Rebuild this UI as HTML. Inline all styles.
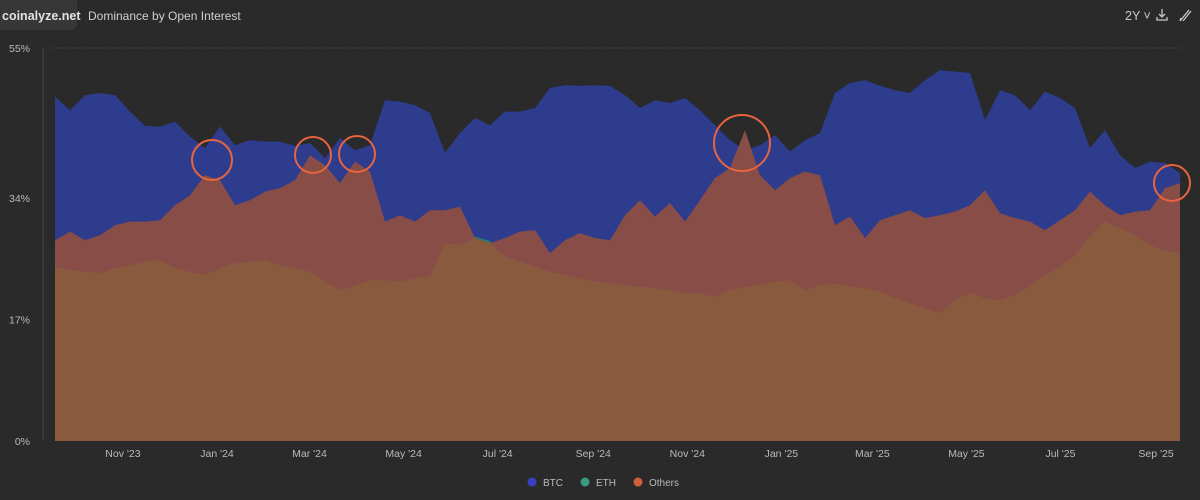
<!DOCTYPE html>
<html><head><meta charset="utf-8"><style>
body{margin:0;background:#2a2a2a;font-family:"Liberation Sans",sans-serif;}
svg{display:block}
</style></head><body>
<svg id="chart" width="1200" height="500">
<rect x="0" y="0" width="1200" height="500" fill="#2a2a2a"/>
<rect x="-6" y="-6" width="83" height="36" rx="6" fill="#373737"/>
<text x="2" y="20" fill="#e2e2e2" font-size="12.5" font-weight="bold">coinalyze.net</text>
<text x="88" y="20" fill="#d0d0d0" font-size="12">Dominance by Open Interest</text>
<text x="1125" y="20" fill="#c8c8c8" font-size="12.5">2Y ˅</text>
<g stroke="#c8c8c8" fill="none" stroke-width="1.3">
<path d="M1162 9 v8 M1159 14 l3 3 l3 -3 M1157 17 v3 h10 v-3"/></g>
<g stroke="#c8c8c8" fill="none" stroke-width="1.3">
<path d="M1180 21 l9 -11 M1183 21 l8 -10 M1180 21 l1 -3"/></g>
<line x1="52" y1="48" x2="1182" y2="48" stroke="#444" stroke-dasharray="3 2"/>
<line x1="43" y1="48" x2="43" y2="441" stroke="#444"/>
<g id="plot"></g>
<g id="axes"></g>
<g>
<g><circle cx="532" cy="482" r="4.5" fill="#3a3fc0"/><text x="543" y="486" fill="#bbb" font-size="10">BTC</text></g>
<g><circle cx="585" cy="482" r="4.5" fill="#3a9a80"/><text x="596" y="486" fill="#bbb" font-size="10">ETH</text></g>
<g><circle cx="638" cy="482" r="4.5" fill="#d0603c"/><text x="649" y="486" fill="#bbb" font-size="10">Others</text></g>
</g>
<g id="annot"></g>
</svg>
<script>
const btc=[48.2,46.3,48.4,48.7,48.4,46.1,44.1,44.0,44.7,42.6,41.0,44.0,41.4,42.1,41.9,41.9,41.3,41.7,39.6,42.4,40.7,41.4,47.7,47.5,47.0,45.9,40.3,43.1,45.2,44.2,46.1,46.1,46.6,49.4,49.8,49.7,49.8,49.7,48.4,46.6,47.7,47.3,48.0,46.3,44.2,42.1,40.7,41.4,42.8,40.5,42.1,43.1,48.7,50.1,50.5,49.7,49.1,48.7,50.5,51.9,51.7,51.5,44.9,49.1,48.4,46.3,48.9,48.0,46.6,41.0,43.5,40.0,38.2,39.1,38.9,37.5];
const others=[28.1,29.3,28.1,28.8,30.2,30.7,30.7,30.9,33.0,34.4,37.2,36.5,33.0,33.7,34.9,35.4,36.5,40.0,38.6,36.1,39.1,37.7,30.7,31.6,30.7,32.3,32.3,32.8,28.4,27.7,28.4,29.3,29.5,26.3,28.1,29.1,28.4,28.1,31.6,33.7,31.4,33.3,30.7,33.7,36.8,38.2,43.5,37.2,35.1,36.8,37.7,37.2,30.2,31.4,28.4,30.9,31.6,32.3,31.2,31.6,32.1,33.0,35.1,31.9,31.2,30.7,29.5,30.9,32.3,34.9,33.0,31.6,32.1,32.3,35.4,36.1];
const eth=[24.4,23.9,23.7,23.5,24.2,24.6,25.1,25.3,24.2,23.7,23.2,24.2,24.9,25.1,25.3,24.6,24.2,23.7,22.3,21.1,21.8,22.5,22.5,22.3,22.8,23.0,27.7,27.4,28.6,28.0,25.8,25.1,24.4,23.7,23.2,22.8,22.3,22.1,21.8,21.6,21.4,21.1,20.7,20.6,20.2,21.1,21.6,21.8,22.3,22.5,21.1,21.8,22.0,21.6,21.4,20.9,20.0,19.3,18.6,17.9,19.7,20.7,20.0,19.7,20.4,21.8,23.2,24.4,26.0,28.6,30.7,29.8,28.8,27.4,26.7,26.3];
const yTicks=[0,17,34,55];
const xTickLabels=["Nov '23","Jan '24","Mar '24","May '24","Jul '24","Sep '24","Nov '24","Jan '25","Mar '25","May '25","Jul '25","Sep '25"];
const xTickDates=["2023-11-01","2024-01-01","2024-03-01","2024-05-01","2024-07-01","2024-09-01","2024-11-01","2025-01-01","2025-03-01","2025-05-01","2025-07-01","2025-09-01"];
const NS="http://www.w3.org/2000/svg";
const x0=55,x1=1180,yBase=441,yTop=48;
function xs(i){return x0+(x1-x0)*i/(btc.length-1);}
function ys(v){return yBase-(yBase-yTop)*v/55;}
function xDate(s){const d=(Date.parse(s)-Date.parse("2024-01-01"))/86400000;return 217+d*1.542;}
function area(vals,color,name){
  let d="M"+xs(0)+","+yBase;
  vals.forEach((v,i)=>{d+=" L"+xs(i).toFixed(1)+","+ys(v).toFixed(1);});
  d+=" L"+xs(vals.length-1)+","+yBase+" Z";
  const p=document.createElementNS(NS,"path");
  p.setAttribute("d",d);p.setAttribute("fill",color);
  
  
  document.getElementById("plot").appendChild(p);
}
area(btc,"#2e3c8e","btc-area");
area(eth,"#2a7a6e","eth-area");
area(others,"#884d47","others-area");
area(eth.map((v,i)=>Math.min(v,others[i])),"#8a5a3f","eth-others-overlap-area");
const ax=document.getElementById("axes");
yTicks.forEach(t=>{
  const tx=document.createElementNS(NS,"text");
  tx.setAttribute("x",30);tx.setAttribute("y",ys(t)+4);tx.setAttribute("text-anchor","end");
  tx.setAttribute("fill","#bbb");tx.setAttribute("font-size","10.5");tx.textContent=t+"%";
  
  
  ax.appendChild(tx);
});
xTickLabels.forEach((l,i)=>{
  const tx=document.createElementNS(NS,"text");
  tx.setAttribute("x",xDate(xTickDates[i]));tx.setAttribute("y",457);tx.setAttribute("text-anchor","middle");
  tx.setAttribute("fill","#bbb");tx.setAttribute("font-size","10.5");tx.textContent=l;
  
  
  ax.appendChild(tx);
});
const circles=[[212,160,20],[313,155,18],[357,154,18],[742,143,28],[1172,183,18]];
const an=document.getElementById("annot");
circles.forEach(c=>{
  const e=document.createElementNS(NS,"circle");
  e.setAttribute("cx",c[0]);e.setAttribute("cy",c[1]);e.setAttribute("r",c[2]);
  e.setAttribute("fill","none");e.setAttribute("stroke","#e8643e");e.setAttribute("stroke-width","2");
  
  
  an.appendChild(e);
});
</script>
</body></html>
